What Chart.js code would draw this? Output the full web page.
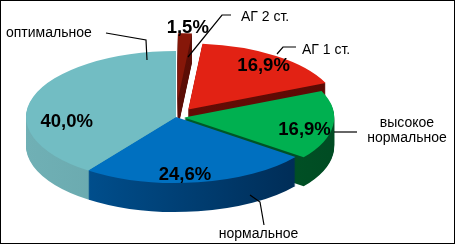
<!DOCTYPE html>
<html><head><meta charset="utf-8">
<script src="https://cdn.jsdelivr.net/npm/chart.js@4/dist/chart.umd.min.js"></script>
<style>
html,body{margin:0;padding:0;background:#fff;}
canvas{display:block;}
</style></head><body>
<canvas id="c" width="455" height="244"></canvas>
<script>
// ---- data ----
const categories = ['АГ 2 ст.', 'АГ 1 ст.', 'высокое нормальное', 'нормальное', 'оптимальное'];
const values = [1.5, 16.9, 16.9, 24.6, 40.0];
const valueLabels = ['1,5%', '16,9%', '16,9%', '24,6%', '40,0%'];

// ---- styling ----
const topColors = ['#861709', '#E22214', '#00B050', '#0070C0', '#72BDC3'];
const sideColors = [['#6A1007', '#4E0B04'], ['#6E0E07', '#5A0A04'], ['#006A32', '#004A22'], ['#00589C', '#00264C'], ['#70B0B5', '#5A979C']];
const explode = [0.27, 0.14, 0.055, 0, 0];
const view = {cx: 176, cy: 117, rx: 150, ry: 66, depth: 29};
const pctLayout = [
  {r: 1.11, dx: 2, dy: 0},
  {r: 0.857, dx: 0, dy: 1},
  {r: 0.808, dx: 0, dy: 5},
  {r: 0.858, dx: -10, dy: 0},
  {r: 0.766, dx: 0, dy: 19}
];
const callouts = [
  {lines: ['АГ 2 ст.'], x: 241, y: 20.5, align: 'left', path: [[231, 15], [222, 15], [188, 57]]},
  {lines: ['АГ 1 ст.'], x: 302, y: 54, align: 'left', path: [[296, 47], [283, 47], [277, 54]]},
  {lines: ['высокое', 'нормальное'], x: 407, y: 127, align: 'center', path: [[357, 132], [334, 132]]},
  {lines: ['нормальное'], x: 258.5, y: 237.5, align: 'center', path: [[264, 225], [260, 202], [250, 195]]},
  {lines: ['оптимальное'], x: 6, y: 37, align: 'left', path: [[106, 33], [146, 40], [147, 60]]}
];
const FONT = '"Liberation Sans", Arial, sans-serif';

function geom(chart) {
  const arcs = chart.getDatasetMeta(0).data;
  const el0 = arcs[0];
  return {arcs, R: el0.outerRadius, ox: el0.x, oy: el0.y};
}

const pie3d = {
  id: 'pie3d',
  beforeDatasetsDraw(chart) {
    const ctx = chart.ctx;
    const {arcs, R, ox, oy} = geom(chart);
    const applyView = (k) => {
      ctx.translate(view.cx, view.cy + k);
      ctx.scale(view.rx / R, view.ry / R);
      ctx.translate(-ox, -oy);
    };
    const toElX = X => ox + (X - view.cx) * R / view.rx;
    const sideFill = sideColors.map(([a, b]) => {
      const g = ctx.createLinearGradient(toElX(25), 0, toElX(340), 0);
      g.addColorStop(0, a); g.addColorStop(1, b); return g;
    });
    const drawArc = (el, i, fill) => {
      const mid = (el.startAngle + el.endAngle) / 2;
      const t = explode[i] * R;
      ctx.save();
      ctx.translate(Math.cos(mid) * t, Math.sin(mid) * t);
      const f = Object.create(el);
      f.options = Object.assign({}, el.options, {backgroundColor: fill, borderWidth: 0});
      f.draw(ctx);
      ctx.restore();
    };
    for (let k = view.depth; k >= 1; k--) {
      ctx.save(); applyView(k);
      arcs.forEach((el, i) => drawArc(el, i, sideFill[i]));
      ctx.restore();
    }
    ctx.save(); applyView(0);
    arcs.forEach((el, i) => drawArc(el, i, topColors[i]));
    ctx.restore();
    return false;
  },
  afterDraw(chart) {
    const ctx = chart.ctx;
    const {arcs, R, ox, oy} = geom(chart);
    ctx.save();
    ctx.fillStyle = '#000';
    ctx.font = 'bold 18.5px ' + FONT;
    ctx.textAlign = 'center';
    ctx.textBaseline = 'alphabetic';
    arcs.forEach((el, i) => {
      const mid = (el.startAngle + el.endAngle) / 2;
      const L = pctLayout[i];
      const rr = (explode[i] + L.r) * R;
      const px = Math.cos(mid) * rr, py = Math.sin(mid) * rr;
      const X = view.cx + px * view.rx / R + L.dx;
      const Y = view.cy + py * view.ry / R + L.dy;
      ctx.fillText(valueLabels[i], X, Y + 6.5);
    });
    ctx.font = '14px ' + FONT;
    ctx.strokeStyle = '#000';
    ctx.lineWidth = 1.2;
    callouts.forEach((c) => {
      ctx.beginPath();
      c.path.forEach(([x, y], j) => j ? ctx.lineTo(x, y) : ctx.moveTo(x, y));
      ctx.stroke();
      ctx.textAlign = c.align;
      c.lines.forEach((ln, j) => ctx.fillText(ln, c.x, c.y + j * 15));
    });
    ctx.lineWidth = 1;
    ctx.strokeRect(0.5, 0.5, 454, 243);
    ctx.restore();
  }
};

new Chart(document.getElementById('c'), {
  type: 'pie',
  data: {
    labels: categories,
    datasets: [{data: values, backgroundColor: topColors, borderWidth: 0}]
  },
  options: {
    responsive: false,
    animation: false,
    devicePixelRatio: 1,
    plugins: {legend: {display: false}, tooltip: {enabled: false}},
    events: []
  },
  plugins: [pie3d]
});
</script>
</body></html>
